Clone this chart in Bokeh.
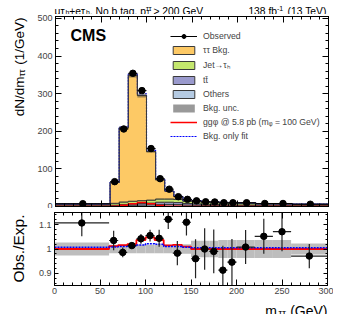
import numpy as np
from bokeh.plotting import figure
from bokeh.layouts import column, row
from bokeh.models import (Range1d, LinearAxis, SingleIntervalTicker, FixedTicker,
                          Label, Legend, LegendItem, CustomJSTickFormatter)
from bokeh.embed import file_html
from bokeh.resources import INLINE

# ---------------- data ----------------
edges = [0, 60, 70, 80, 90, 100, 110, 120, 130, 140, 150, 160, 170, 180, 190, 200, 220, 240, 260, 300]
others  = [1.2, 2.0, 3.0, 3.5, 4.0, 4.5, 5.5, 5.5, 5.0, 4.0, 3.5, 3.0, 2.7, 2.4, 2.2, 2.0, 1.6, 1.5, 1.2]
ttbar   = [0.8, 1.5, 2.5, 3.5, 4.0, 4.5, 6.0, 6.0, 5.5, 4.0, 3.5, 3.0, 2.6, 2.3, 2.1, 2.0, 1.6, 1.4, 1.1]
jetfake = [3.0, 5.0, 6.5, 7.0, 7.5, 8.0, 8.5, 8.5, 8.5, 6.0, 6.0, 5.0, 4.7, 4.3, 4.2, 4.0, 3.3, 3.1, 2.7]
ztt     = [1.7, 55.5, 197, 335, 279.5, 129, 51, 21, 7.5, 3.0, 2.6, 1.5, 2.1, 2.0, 2.1, 1.9, 1.1, 1.5, 1.2]
signal  = [0, 0.8, 3.3, 7.0, 10.9, 7.0, 2.6, 0.6, 0.45, 0.17, 0, 0, 0, 0, 0, 0, 0, 0, 0]
observed = [7.4, 66, 206, 354, 308, 154, 74, 46, 26, 19, 15, 12.5, 12, 10, 10, 10, 8, 8, 6]

ratio     = [1.107, 1.035, 0.986, 1.014, 1.042, 1.055, 1.044, 1.122, 0.983, 1.11, 0.96, 1.0, 0.99,
             0.913, 0.946, 1.008, 1.052, 1.071, 0.971]
ratio_err = [0.055, 0.04, 0.02, 0.012, 0.02, 0.024, 0.035, 0.04, 0.05, 0.055, 0.08, 0.085, 0.09,
             0.1, 0.095, 0.07, 0.072, 0.08, 0.05]
band_unc  = [0.027, 0.017, 0.017, 0.017, 0.017, 0.017, 0.017, 0.017, 0.017, 0.02, 0.034, 0.034, 0.034,
             0.037, 0.037, 0.037, 0.037, 0.037, 0.023]
sig_ratio = [1.0, 1.012, 1.016, 1.02, 1.037, 1.048, 1.037, 1.015, 1.017, 1.01, 1.0, 1.0, 1.0,
             1.0, 1.0, 1.0, 1.0, 1.0, 1.0]
bonly_ratio = [1.007, 1.008, 1.01, 1.012, 1.016, 1.022, 1.02, 1.01, 1.01, 1.007, 1.005, 1.005, 1.005,
               1.005, 1.005, 1.005, 1.005, 1.005, 1.005]

FONT = "Liberation Sans"
C_ZTT, C_JET, C_TT, C_OTH = "#fdc965", "#c4e76d", "#9a9acd", "#b5cbe3"
OUTLINE = "#3a3a3a"

lo = np.array(edges[:-1], float)
hi = np.array(edges[1:], float)
ctr = (lo + hi) / 2
n = len(lo)

# ---------------- helpers ----------------
W = {' ': 278, '(': 333, ')': 333, '+': 584, ',': 278, '-': 333, '.': 278, '/': 278, '>': 584,
     '=': 584, '@': 1015, 'C': 722, 'E': 667, 'G': 778, 'M': 833, 'N': 722, 'O': 778, 'S': 667,
     'T': 611, 'V': 667, 'a': 556, 'b': 556, 'd': 556, 'e': 556, 'f': 278, 'g': 556, 'h': 556,
     'm': 833, 'o': 556, 'p': 556, 's': 500, 't': 278, 'x': 500, 'μ': 576, 'τ': 480}
for d in "0123456789":
    W[d] = 556


def tw(s, size):
    return sum(W.get(ch, 556) for ch in s) / 1000.0 * size


def lab(p, x, y, text, size, angle=0.0, align="left", bold=False):
    p.add_layout(Label(x=x, y=y, x_units="screen", y_units="screen", text=text,
                       text_font=FONT, text_font_size=f"{size}px",
                       text_font_style="bold" if bold else "normal",
                       text_align=align, text_baseline="alphabetic", angle=angle,
                       text_color="black"))


def text_fig(w, h):
    f = figure(frame_width=w, frame_height=h, x_range=Range1d(0, w), y_range=Range1d(0, h),
               output_backend="svg", toolbar_location=None, min_border=0,
               x_axis_location=None, y_axis_location=None)
    f.grid.visible = False
    f.outline_line_color = None
    return f


BLANK = CustomJSTickFormatter(code="return ''")


def style_axis(ax, labels=True):
    ax.major_tick_in = 6
    ax.major_tick_out = 0
    ax.minor_tick_in = 3
    ax.minor_tick_out = 0
    ax.axis_line_color = "black"
    ax.major_tick_line_color = "black"
    ax.minor_tick_line_color = "black"
    ax.major_label_text_font = FONT
    ax.major_label_text_font_size = "9px"
    ax.major_label_standoff = 3
    if not labels:
        ax.formatter = BLANK
        ax.major_label_text_font_size = "0px"
        ax.major_label_standoff = 0


def step_y(v):
    v = list(v)
    return v + [v[-1]]


def step_poly(bottom, topv):
    xs, ys = [], []
    for i in range(n):
        xs += [lo[i], hi[i]]
        ys += [topv[i], topv[i]]
    for i in reversed(range(n)):
        xs += [hi[i], lo[i]]
        ys += [bottom[i], bottom[i]]
    return xs, ys


FW, FH1, FH2 = 273, 190, 73
BL, BR = 20, 6
PW = BL + FW + BR          # 299
SW = 34                    # width of the rotated-title strips
L = 15.5                   # ratio axis title
LX, lx = 14.0, 9.5         # x axis title
LY, ly = 13.5, 9.0         # top y-axis title
S, s = 10.3, 7.0           # header sizes
GAP = 3.2
HH = 14
TOPB, BOTB = 2, 2
RTB, RBB = 4, 12
XH = 17
H1 = TOPB + FH1 + BOTB
H2 = RTB + FH2 + RBB

# ---------------- header ----------------
head = text_fig(SW + PW, HH)
yb = 3.5
x = SW + BL
for txt, sz, dy in [("μτ", S, 0), ("h", s, -1.5), ("+eτ", S, 0), ("h", s, -1.5), (", No b tag, p", S, 0)]:
    lab(head, x, yb + dy, txt, sz)
    x += tw(txt, sz)
lab(head, x, yb + 3.0, "ττ", s)
lab(head, x, yb - 1.5, "T", s)
x += tw("ττ", s) + 0.8
lab(head, x, yb, "> 200 GeV", S)

xr = SW + BL + FW - 1
lab(head, xr, yb, "(13 TeV)", S, align="right")
xr -= tw("(13 TeV)", S) + GAP
lab(head, xr, yb + 3.0, "-1", s, align="right")
xr -= tw("-1", s)
lab(head, xr, yb, "138 fb", S, align="right")

# ---------------- top panel ----------------
top = figure(frame_width=FW, frame_height=FH1, x_range=Range1d(0, 300), y_range=Range1d(0, 505),
             output_backend="svg", toolbar_location=None,
             min_border_left=BL, min_border_right=BR, min_border_top=TOPB, min_border_bottom=BOTB)
top.grid.visible = False
top.outline_line_color = "black"
top.xaxis.ticker = SingleIntervalTicker(interval=50, num_minor_ticks=5)
top.yaxis.ticker = SingleIntervalTicker(interval=100, num_minor_ticks=5)
style_axis(top.xaxis[0], labels=False)
style_axis(top.yaxis[0], labels=True)
ax_r = LinearAxis(ticker=SingleIntervalTicker(interval=100, num_minor_ticks=5))
style_axis(ax_r, labels=False)
top.add_layout(ax_r, "right")
ax_t = LinearAxis(ticker=SingleIntervalTicker(interval=50, num_minor_ticks=5))
style_axis(ax_t, labels=False)
top.add_layout(ax_t, "above")

comps = [(others, C_OTH), (ttbar, C_TT), (jetfake, C_JET), (ztt, C_ZTT)]
cum = np.zeros(n)
stack_r = []
for vals, col in comps:
    b = cum.copy()
    cum = cum + np.array(vals, float)
    xs, ys = step_poly(b, cum)
    stack_r.append(top.patch(xs, ys, fill_color=col, line_color=OUTLINE, line_width=1))
bkg_total = cum

bo_r = top.step(x=edges, y=step_y(bkg_total * np.array(bonly_ratio)), mode="after",
                line_color="#0000ff", line_width=1.2, line_dash="2 1")
unc_r = top.quad(left=lo, right=hi, bottom=bkg_total * (1 - np.array(band_unc)),
                 top=bkg_total * (1 + np.array(band_unc)), fill_color="#333333",
                 fill_alpha=0.5, line_color=None)
top.step(x=edges, y=step_y(bkg_total), mode="after", line_color=OUTLINE, line_width=1)
sig_r = top.step(x=edges, y=step_y(signal), mode="after", line_color="red", line_width=1.5)

obs = np.array(observed, float)
obs_err = np.array(ratio_err) * bkg_total
hbar = top.segment(x0=lo, x1=hi, y0=obs, y1=obs, line_color="black", line_width=1)
top.segment(x0=ctr, x1=ctr, y0=obs - obs_err, y1=obs + obs_err, line_color="black", line_width=1)
pts = top.scatter(ctr, obs, size=6.5, color="black")

items = [
    LegendItem(label="Observed", renderers=[hbar, pts]),
    LegendItem(label="ττ Bkg.", renderers=[stack_r[3]]),
    LegendItem(label="Jet→τₕ", renderers=[stack_r[2]]),
    LegendItem(label="tt̄", renderers=[stack_r[1]]),
    LegendItem(label="Others", renderers=[stack_r[0]]),
    LegendItem(label="Bkg. unc.", renderers=[unc_r]),
    LegendItem(label="ggφ @ 5.8 pb (mᵩ = 100 GeV)", renderers=[sig_r]),
    LegendItem(label="Bkg. only fit", renderers=[bo_r]),
]
leg = Legend(items=items, location=(115, 65), glyph_width=27, glyph_height=10, label_height=10,
             spacing=4, padding=0, margin=0, label_standoff=6, label_text_font=FONT,
             label_text_font_size="8.7px", border_line_color=None, background_fill_alpha=0)
top.add_layout(leg)

lab(top, 15, 171, "CMS", 16, bold=True)

# y title (rotated) in its own strip
ylab = text_fig(SW, H1)
wy = tw("dN/dm", LY) + tw("ττ", ly) + GAP + tw("(1/GeV)", LY)
y0 = (H1 - 1.0) - wy
lab(ylab, 18.5, y0, "dN/dm", LY, angle=np.pi / 2)
y0 += tw("dN/dm", LY)
lab(ylab, 21.0, y0, "ττ", ly, angle=np.pi / 2)
y0 += tw("ττ", ly) + GAP
lab(ylab, 18.5, y0, "(1/GeV)", LY, angle=np.pi / 2)

# ---------------- ratio panel ----------------
bot = figure(frame_width=FW, frame_height=FH2, x_range=top.x_range, y_range=Range1d(0.85, 1.15),
             output_backend="svg", toolbar_location=None,
             min_border_left=BL, min_border_right=BR, min_border_top=RTB, min_border_bottom=RBB)
bot.grid.visible = False
bot.outline_line_color = "black"
bot.xaxis.ticker = SingleIntervalTicker(interval=50, num_minor_ticks=5)
minor_r = [round(v, 2) for v in np.arange(0.86, 1.15, 0.02)]
bot.yaxis.ticker = FixedTicker(ticks=[0.9, 1.0, 1.1], minor_ticks=minor_r)
bot.yaxis.major_label_overrides = {0.9: "0.9", 1.0: "1", 1.1: "1.1"}
style_axis(bot.xaxis[0], labels=True)
style_axis(bot.yaxis[0], labels=True)
bot.xaxis.major_label_standoff = 2
bot.yaxis.major_tick_in = 4
bot.yaxis.minor_tick_in = 2
ax_r2 = LinearAxis(ticker=FixedTicker(ticks=[0.9, 1.0, 1.1], minor_ticks=minor_r))
style_axis(ax_r2, labels=False)
ax_r2.major_tick_in = 4
ax_r2.minor_tick_in = 2
bot.add_layout(ax_r2, "right")
ax_t2 = LinearAxis(ticker=SingleIntervalTicker(interval=50, num_minor_ticks=5))
style_axis(ax_t2, labels=False)
bot.add_layout(ax_t2, "above")

unc = np.array(band_unc)
bot.quad(left=lo, right=hi, bottom=1 - unc, top=1 + unc, fill_color="#bdbdbd", line_color=None)
bot.step(x=edges, y=step_y(sig_ratio), mode="after", line_color="red", line_width=1.8)
bot.step(x=edges, y=step_y(bonly_ratio), mode="after", line_color="#0000ff", line_width=1.5,
         line_dash="2 1")
r = np.array(ratio)
e = np.array(ratio_err)
bot.segment(x0=lo, x1=hi, y0=r, y1=r, line_color="#222222", line_width=1.2)
bot.segment(x0=ctr, x1=ctr, y0=r - e, y1=r + e, line_color="#222222", line_width=1.2)
bot.scatter(ctr, r, size=6.5, color="black")

olab = text_fig(SW, H2)
lab(olab, 18, H2 - 2, "Obs./Exp.", L, angle=np.pi / 2, align="right")

# ---------------- x title ----------------
xlab = text_fig(SW + PW, XH)
xr = SW + BL + FW
lab(xlab, xr, 3.5, "(GeV)", LX, align="right")
xr -= tw("(GeV)", LX) + GAP + 1
lab(xlab, xr, 2.2, "ττ", lx, align="right")
xr -= tw("ττ", lx)
lab(xlab, xr, 3.5, "m", LX, align="right")

layout = column(head, row(ylab, top, spacing=0), row(olab, bot, spacing=0), xlab, spacing=0)
open("out.html", "w").write(file_html(layout, INLINE))
